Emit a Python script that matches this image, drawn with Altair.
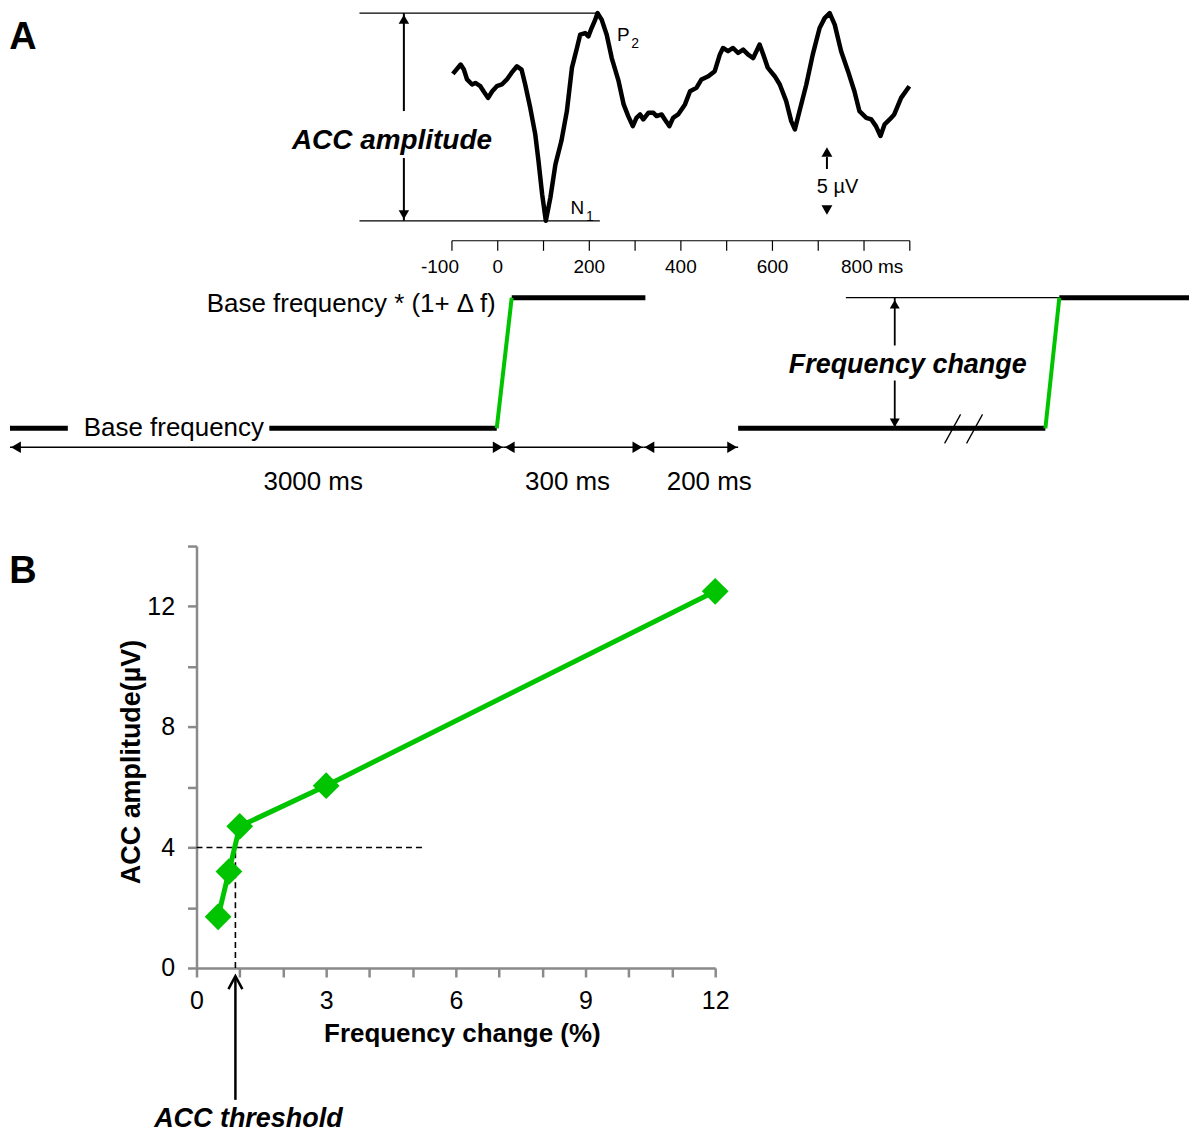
import altair as alt
import pandas as pd

GREEN = "#00c400"
GRAY = "#8a8a8a"
FONT = "Liberation Sans"

# ---------------- Panel A : averaged ERP (time in ms, amplitude in uV) ----------------
erp_ms = [-98, -81, -74, -67, -56, -49, -38, -31, -21, -12,
          -2, 9, 20, 30, 42, 52, 60, 71, 82, 89,
          97, 105, 115, 126, 139, 151, 162, 173, 180, 191,
          198, 205, 213, 218, 227, 238, 249, 264, 275, 285,
          295, 303, 311, 318, 329, 340, 347, 358, 365, 375,
          383, 394, 409, 420, 434, 445, 460, 474, 485, 492,
          503, 514, 525, 536, 547, 558, 565, 572, 580, 590,
          605, 616, 630, 641, 649, 659, 674, 688, 703, 714,
          725, 736, 750, 765, 779, 790, 805, 816, 826, 836,
          845, 856, 866, 881, 899]
erp_uv = [0.54, 1.23, 0.86, 0.13, -0.24, -0.13, -0.37, -0.74, -1.23, -0.74,
          -0.37, -0.24, 0.13, 0.61, 1.10, 0.86, -0.24, -1.96, -3.92, -5.88,
          -8.33, -10.29, -8.58, -6.13, -4.41, -2.21, 0.98, 2.45, 3.43, 3.55,
          3.31, 3.92, 4.54, 5.02, 4.54, 3.43, 1.71, 0.0, -1.71, -2.57,
          -3.31, -2.70, -2.45, -2.82, -2.33, -2.33, -2.57, -2.45, -2.82, -3.31,
          -2.70, -2.45, -1.71, -0.74, -0.49, 0.13, 0.37, 0.74, 1.96, 2.45,
          2.21, 2.45, 2.08, 2.33, 1.96, 1.71, 2.21, 2.70, 1.96, 0.98,
          0.37, -0.24, -1.47, -2.94, -3.55, -2.21, -0.24, 1.96, 3.92, 4.65,
          5.02, 4.17, 2.21, 0.74, -0.74, -2.21, -2.70, -2.82, -3.31, -4.04,
          -3.18, -2.82, -2.45, -1.23, -0.37]
P2_UV = max(erp_uv)
N1_UV = min(erp_uv)

erp_tick_ms = list(range(-100, 1000, 100))
erp_center_labels_ms = [0, 200, 400, 600]
erp_center_labels = ["0", "200", "400", "600"]
erp_axis_uv = -11.76
erp_tick_end_uv = -12.5
erp_label_uv = -14.12

amp_ref_ms = [-302, 223]
amp_arrow_ms = -205
amp_gap_uv = [-2.2, -5.66]
calib_ms = 719

# ---------------- Panel A : stimulus schematic (level 0 = base, 1 = base*(1+df)) ----------------
bar_x0 = [10, 270, 513, 740, 1062]
bar_x1 = [68, 498, 647, 1048, 1192]
bar_level = [0, 0, 1, 0, 1]
ramp_x0 = [498, 1048]
ramp_x1 = [513, 1062]
dur_x0 = [10, 505, 645]
dur_x1 = [505, 645, 740]
dur_labels = ["3000 ms", "300 ms", "200 ms"]
dur_label_x = [314, 569, 711]
DUR_LEVEL = -0.145
DUR_LABEL_LEVEL = -0.473
FC_X = 897

# ---------------- Panel B : ACC amplitude vs frequency change ----------------
freq_change = [0.5, 0.75, 1.0, 3.0, 12.0]
acc_amp = [1.7, 3.2, 4.7, 6.05, 12.5]
THR_FREQ = 0.9
THR_AMP = 4.0

# ============ scales ============
SX_E = alt.Scale(domain=[-1087.1, 1509.8], nice=False, zero=False)
SY_E = alt.Scale(domain=[-31.25, 5.882], nice=False, zero=False)
SX_S = alt.Scale(domain=[0, 1192], nice=False, zero=False)
SY_S = alt.Scale(domain=[-0.5878, 3.2672], nice=False, zero=False)


def ex(f):
    return alt.X(field=f, type="quantitative", scale=SX_E, axis=None)


def ey(f):
    return alt.Y(field=f, type="quantitative", scale=SY_E, axis=None)


def sx(f):
    return alt.X(field=f, type="quantitative", scale=SX_S, axis=None)


def sy(f):
    return alt.Y(field=f, type="quantitative", scale=SY_S, axis=None)


def txt():
    return alt.Text(field="label", type="nominal")


# ---- ERP group ----
erp_df = pd.DataFrame({"t": erp_ms, "v": erp_uv})
wave = alt.Chart(erp_df).mark_line(color="black", strokeWidth=4.5, strokeJoin="round").encode(
    x=ex("t"), y=ey("v"))

amp_lines = alt.Chart(pd.DataFrame({"t0": [amp_ref_ms[0]] * 2, "t1": [amp_ref_ms[1]] * 2,
                                    "v": [P2_UV, N1_UV]})).mark_rule(
    color="black", strokeWidth=1.2).encode(x=ex("t0"), x2=alt.X2(field="t1"), y=ey("v"))

amp_arrow = alt.Chart(pd.DataFrame({"t": [amp_arrow_ms] * 2, "v0": [P2_UV, amp_gap_uv[1]],
                                    "v1": [amp_gap_uv[0], N1_UV]})).mark_rule(
    color="black", strokeWidth=2).encode(x=ex("t"), y=ey("v0"), y2=alt.Y2(field="v1"))

amp_head_up = alt.Chart(pd.DataFrame({"t": [amp_arrow_ms], "v": [P2_UV - 0.45]})).mark_point(
    shape="triangle-up", filled=True, color="black", size=110, opacity=1).encode(x=ex("t"), y=ey("v"))
amp_head_dn = alt.Chart(pd.DataFrame({"t": [amp_arrow_ms], "v": [N1_UV + 0.45]})).mark_point(
    shape="triangle-down", filled=True, color="black", size=110, opacity=1).encode(x=ex("t"), y=ey("v"))

amp_text = alt.Chart(pd.DataFrame({"t": [-231], "v": [-5.0], "label": ["ACC amplitude"]})).mark_text(
    font=FONT, fontSize=28, fontWeight="bold", fontStyle="italic", baseline="alphabetic",
    align="center", color="black").encode(x=ex("t"), y=ey("v"), text=txt())

peak_main = alt.Chart(pd.DataFrame({"t": [274, 174], "v": [2.94, -9.78], "label": ["P", "N"]})).mark_text(
    font=FONT, fontSize=19, baseline="alphabetic", align="center", color="black").encode(
    x=ex("t"), y=ey("v"), text=txt())
peak_sub = alt.Chart(pd.DataFrame({"t": [300, 201], "v": [2.43, -10.29], "label": ["2", "1"]})).mark_text(
    font=FONT, fontSize=14, baseline="alphabetic", align="center", color="black").encode(
    x=ex("t"), y=ey("v"), text=txt())

calib_stem = alt.Chart(pd.DataFrame({"t": [calib_ms], "v0": [-5.59], "v1": [-6.47]})).mark_rule(
    color="black", strokeWidth=2).encode(x=ex("t"), y=ey("v0"), y2=alt.Y2(field="v1"))
calib_up = alt.Chart(pd.DataFrame({"t": [calib_ms], "v": [-5.22]})).mark_point(
    shape="triangle-up", filled=True, color="black", size=120, opacity=1).encode(x=ex("t"), y=ey("v"))
calib_dn = alt.Chart(pd.DataFrame({"t": [calib_ms], "v": [-9.49]})).mark_point(
    shape="triangle-down", filled=True, color="black", size=120, opacity=1).encode(x=ex("t"), y=ey("v"))
calib_text = alt.Chart(pd.DataFrame({"t": [742], "v": [-8.24], "label": ["5 \u00b5V"]})).mark_text(
    font=FONT, fontSize=20, baseline="alphabetic", align="center", color="black").encode(
    x=ex("t"), y=ey("v"), text=txt())

time_axis = alt.Chart(pd.DataFrame({"t0": [erp_tick_ms[0]], "t1": [erp_tick_ms[-1]],
                                    "v": [erp_axis_uv]})).mark_rule(
    color="black", strokeWidth=1.2).encode(x=ex("t0"), x2=alt.X2(field="t1"), y=ey("v"))
time_ticks = alt.Chart(pd.DataFrame({"t": erp_tick_ms, "v0": [erp_axis_uv] * len(erp_tick_ms),
                                     "v1": [erp_tick_end_uv] * len(erp_tick_ms)})).mark_rule(
    color="black", strokeWidth=1.2).encode(x=ex("t"), y=ey("v0"), y2=alt.Y2(field="v1"))
time_labels_c = alt.Chart(pd.DataFrame({"t": erp_center_labels_ms, "v": [erp_label_uv] * 4,
                                        "label": erp_center_labels})).mark_text(
    font=FONT, fontSize=19, baseline="alphabetic", align="center", color="black").encode(
    x=ex("t"), y=ey("v"), text=txt())
time_label_l = alt.Chart(pd.DataFrame({"t": [-100], "v": [erp_label_uv], "label": ["-100"]})).mark_text(
    font=FONT, fontSize=19, baseline="alphabetic", align="right", dx=7, color="black").encode(
    x=ex("t"), y=ey("v"), text=txt())
time_label_r = alt.Chart(pd.DataFrame({"t": [800], "v": [erp_label_uv], "label": ["800 ms"]})).mark_text(
    font=FONT, fontSize=19, baseline="alphabetic", align="left", dx=-23, color="black").encode(
    x=ex("t"), y=ey("v"), text=txt())

erp_group = alt.layer(amp_lines, amp_arrow, amp_head_up, amp_head_dn, amp_text, wave,
                      peak_main, peak_sub, calib_stem, calib_up, calib_dn, calib_text,
                      time_axis, time_ticks, time_labels_c, time_label_l, time_label_r)

# ---- schematic group ----
bars = alt.Chart(pd.DataFrame({"x0": bar_x0, "x1": bar_x1, "lv": bar_level})).mark_rule(
    color="black", strokeWidth=5, strokeCap="butt").encode(x=sx("x0"), x2=alt.X2(field="x1"), y=sy("lv"))
ramps = alt.Chart(pd.DataFrame({"x0": ramp_x0, "x1": ramp_x1, "l0": [0, 0], "l1": [1, 1]})).mark_rule(
    color=GREEN, strokeWidth=4, strokeCap="butt").encode(
    x=sx("x0"), x2=alt.X2(field="x1"), y=sy("l0"), y2=alt.Y2(field="l1"))
ref_line = alt.Chart(pd.DataFrame({"x0": [848], "x1": [ramp_x1[1]], "lv": [1]})).mark_rule(
    color="black", strokeWidth=1.2).encode(x=sx("x0"), x2=alt.X2(field="x1"), y=sy("lv"))
slashes = alt.Chart(pd.DataFrame({"x0": [947, 969], "x1": [963, 985], "l0": [-0.115, -0.115],
                                  "l1": [0.107, 0.107]})).mark_rule(
    color="black", strokeWidth=1.3).encode(x=sx("x0"), x2=alt.X2(field="x1"), y=sy("l0"), y2=alt.Y2(field="l1"))
fc_arrow = alt.Chart(pd.DataFrame({"x": [FC_X, FC_X], "l0": [1, 0.366], "l1": [0.634, 0]})).mark_rule(
    color="black", strokeWidth=1.8).encode(x=sx("x"), y=sy("l0"), y2=alt.Y2(field="l1"))
fc_up = alt.Chart(pd.DataFrame({"x": [FC_X], "lv": [0.95]})).mark_point(
    shape="triangle-up", filled=True, color="black", size=100, opacity=1).encode(x=sx("x"), y=sy("lv"))
fc_dn = alt.Chart(pd.DataFrame({"x": [FC_X], "lv": [0.042]})).mark_point(
    shape="triangle-down", filled=True, color="black", size=100, opacity=1).encode(x=sx("x"), y=sy("lv"))
fc_text = alt.Chart(pd.DataFrame({"x": [910], "lv": [0.42], "label": ["Frequency change"]})).mark_text(
    font=FONT, fontSize=27, fontWeight="bold", fontStyle="italic", baseline="alphabetic",
    align="center", color="black").encode(x=sx("x"), y=sy("lv"), text=txt())
dur_lines = alt.Chart(pd.DataFrame({"x0": dur_x0, "x1": dur_x1, "lv": [DUR_LEVEL] * 3})).mark_rule(
    color="black", strokeWidth=1.6).encode(x=sx("x0"), x2=alt.X2(field="x1"), y=sy("lv"))
dur_left = alt.Chart(pd.DataFrame({"x": [x + 6 for x in dur_x0], "lv": [DUR_LEVEL] * 3})).mark_point(
    shape="triangle-left", filled=True, color="black", size=130, opacity=1).encode(x=sx("x"), y=sy("lv"))
dur_right = alt.Chart(pd.DataFrame({"x": [x - 6 for x in dur_x1], "lv": [DUR_LEVEL] * 3})).mark_point(
    shape="triangle-right", filled=True, color="black", size=130, opacity=1).encode(x=sx("x"), y=sy("lv"))
dur_text = alt.Chart(pd.DataFrame({"x": dur_label_x, "lv": [DUR_LABEL_LEVEL] * 3,
                                   "label": dur_labels})).mark_text(
    font=FONT, fontSize=26, baseline="alphabetic", align="center", color="black").encode(
    x=sx("x"), y=sy("lv"), text=txt())
base_text = alt.Chart(pd.DataFrame({"x": [84], "lv": [-0.061], "label": ["Base frequency"]})).mark_text(
    font=FONT, fontSize=26, baseline="alphabetic", align="left", color="black").encode(
    x=sx("x"), y=sy("lv"), text=txt())
high_text = alt.Chart(pd.DataFrame({"x": [497], "lv": [0.893],
                                    "label": ["Base frequency * (1+ \u0394 f)"]})).mark_text(
    font=FONT, fontSize=26, baseline="alphabetic", align="right", color="black").encode(
    x=sx("x"), y=sy("lv"), text=txt())
label_a = alt.Chart(pd.DataFrame({"x": [23], "lv": [2.901], "label": ["A"]})).mark_text(
    font=FONT, fontSize=38, fontWeight="bold", baseline="alphabetic", align="center", color="black").encode(
    x=sx("x"), y=sy("lv"), text=txt())

stim_group = alt.layer(bars, ref_line, slashes, ramps, fc_arrow, fc_up, fc_dn, fc_text,
                       dur_lines, dur_left, dur_right, dur_text, base_text, high_text, label_a)

panel_a = alt.layer(erp_group, stim_group).resolve_scale(
    x="independent", y="independent").properties(width=1192, height=505)

# ---- Panel B ----
SX_B = alt.Scale(domain=[0, 12], nice=False, zero=False)
SY_B = alt.Scale(domain=[0, 14], nice=False, zero=False)
x_axis = alt.Axis(values=list(range(0, 13)), labelExpr="datum.value % 3 === 0 ? datum.label : ''",
                  grid=False, domainColor=GRAY, domainWidth=2.5, tickColor=GRAY, tickWidth=2.5,
                  tickSize=9, labelFont=FONT, labelFontSize=25, labelColor="black", labelPadding=12,
                  labelFlush=False, labelOverlap=False,
                  title="Frequency change (%)", titleFont=FONT, titleFontSize=26, titleFontWeight="bold",
                  titleColor="black", titleX=266, titleY=74, titleBaseline="alphabetic")
y_axis = alt.Axis(values=list(range(0, 15, 2)), labelExpr="datum.value % 4 === 0 ? datum.label : ''",
                  grid=False, domainColor=GRAY, domainWidth=2.5, tickColor=GRAY, tickWidth=2.5,
                  tickSize=9, labelFont=FONT, labelFontSize=25, labelColor="black", labelPadding=13,
                  labelFlush=False, labelOverlap=False,
                  title="ACC amplitude(\u00b5V)", titleFont=FONT, titleFontSize=27, titleFontWeight="bold",
                  titleColor="black", titleX=-57, titleY=216, titleAngle=270, titleBaseline="alphabetic")


def bx(f):
    return alt.X(field=f, type="quantitative", scale=SX_B, axis=x_axis)


def by(f):
    return alt.Y(field=f, type="quantitative", scale=SY_B, axis=y_axis)


b_df = pd.DataFrame({"f": freq_change, "a": acc_amp})
b_line = alt.Chart(b_df).mark_line(color=GREEN, strokeWidth=5).encode(x=bx("f"), y=by("a"))
b_points = alt.Chart(b_df).mark_point(shape="diamond", filled=True, color=GREEN, size=720, opacity=1).encode(
    x=bx("f"), y=by("a"))
dash_h = alt.Chart(pd.DataFrame({"x0": [0], "x1": [5.3], "y": [THR_AMP]})).mark_rule(
    color="black", strokeWidth=1.6, strokeDash=[6, 4]).encode(x=bx("x0"), x2=alt.X2(field="x1"), y=by("y"))
dash_v = alt.Chart(pd.DataFrame({"x": [THR_FREQ], "y0": [0], "y1": [THR_AMP]})).mark_rule(
    color="black", strokeWidth=1.6, strokeDash=[6, 4]).encode(x=bx("x"), y=by("y0"), y2=alt.Y2(field="y1"))
thr_shaft = alt.Chart(pd.DataFrame({"x": [THR_FREQ], "y0": [-4.375], "y1": [-0.3]})).mark_rule(
    color="black", strokeWidth=2.5).encode(x=bx("x"), y=by("y0"), y2=alt.Y2(field="y1"))
thr_head = alt.Chart(pd.DataFrame({"x": [THR_FREQ], "y": [-0.5]})).mark_point(
    shape="M -0.7 0.6 L 0 -0.7 L 0.7 0.6", filled=False, stroke="black", strokeWidth=2.5,
    size=400, opacity=1).encode(x=bx("x"), y=by("y"))
thr_text = alt.Chart(pd.DataFrame({"x": [1.2], "y": [-5.27], "label": ["ACC threshold"]})).mark_text(
    font=FONT, fontSize=27, fontWeight="bold", fontStyle="italic", baseline="alphabetic",
    align="center", color="black").encode(x=bx("x"), y=by("y"), text=txt())

panel_b = alt.layer(dash_h, dash_v, b_line, b_points, thr_shaft, thr_head, thr_text).properties(
    width=520, height=423)

SPACER_W = 118
spacer = alt.Chart(pd.DataFrame({"x": [23], "y": [37], "label": ["B"]})).mark_text(
    font=FONT, fontSize=38, fontWeight="bold", baseline="alphabetic", align="center", color="black").encode(
    x=alt.X(field="x", type="quantitative", scale=alt.Scale(domain=[0, SPACER_W], nice=False, zero=False), axis=None),
    y=alt.Y(field="y", type="quantitative", scale=alt.Scale(domain=[423, 0], nice=False, zero=False), axis=None),
    text=txt()).properties(width=SPACER_W, height=423)

chart = alt.vconcat(panel_a, alt.hconcat(spacer, panel_b, spacing=0), spacing=29).properties(
    padding=0, background="white").configure_view(strokeWidth=0)

chart.save("out.html", embed_options={"renderer": "svg", "actions": False})
